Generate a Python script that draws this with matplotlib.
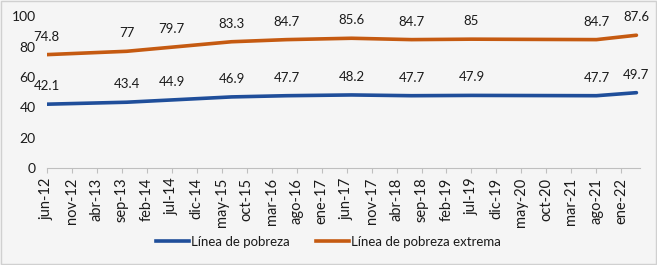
import matplotlib
matplotlib.use("Agg")
import matplotlib.pyplot as plt
from matplotlib.lines import Line2D
from matplotlib.patches import Rectangle

plt.rcParams['font.family'] = ['Lato', 'DejaVu Sans']

# Tick categories (every 5 months starting jun-12)
tick_labels = ["jun-12", "nov-12", "abr-13", "sep-13", "feb-14", "jul-14", "dic-14",
               "may-15", "oct-15", "mar-16", "ago-16", "ene-17", "jun-17", "nov-17",
               "abr-18", "sep-18", "feb-19", "jul-19", "dic-19", "may-20", "oct-20",
               "mar-21", "ago-21", "ene-22"]

obs_months = [0, 16, 25, 37, 48, 61, 73, 85, 110, 118]
pobreza = [42.1, 43.4, 44.9, 46.9, 47.7, 48.2, 47.7, 47.9, 47.7, 49.7]
pobreza_extrema = [74.8, 77, 79.7, 83.3, 84.7, 85.6, 84.7, 85, 84.7, 87.6]
y_ticks = [0, 20, 40, 60, 80, 100]

BLUE = "#1f4e9a"
ORANGE = "#c55a11"
BG = "#f5f5f5"
TXT = "#1a1a1a"

fig = plt.figure(figsize=(6.57, 2.65), dpi=100, facecolor=BG)
ax = fig.add_axes([0.071, 0.366, 0.903, 0.572])
ax.set_facecolor(BG)

ax.plot(obs_months, pobreza, color=BLUE, lw=2.6, solid_capstyle='round', label="Línea de pobreza")
ax.plot(obs_months, pobreza_extrema, color=ORANGE, lw=2.6, solid_capstyle='round', label="Línea de pobreza extrema")

for xs, ys in ((obs_months, pobreza), (obs_months, pobreza_extrema)):
    for x, y in zip(xs, ys):
        ax.annotate(f"{y:g}", (x, y), xytext=(0, 13), textcoords='offset points',
                    ha='center', va='center', fontsize=9.5, color=TXT)

ax.set_xlim(0, 118.7)
ax.set_ylim(0, 100)
ax.set_yticks(y_ticks)
ax.set_xticks([5 * i for i in range(len(tick_labels))])
ax.set_xticklabels(tick_labels, rotation=90, fontsize=10.5, color=TXT)
ax.tick_params(axis='y', length=0, pad=8, labelsize=10, labelcolor=TXT)
ax.tick_params(axis='x', length=3.5, width=0.8, color='#bfbfbf', pad=3.5, direction='out')

for s in ('top', 'right', 'left'):
    ax.spines[s].set_visible(False)
ax.spines['bottom'].set_color('#bfbfbf')
ax.spines['bottom'].set_linewidth(0.8)

handles = [Line2D([], [], color=BLUE, lw=2.6), Line2D([], [], color=ORANGE, lw=2.6)]
fig.legend(handles, ["Línea de pobreza", "Línea de pobreza extrema"], loc='center',
           bbox_to_anchor=(0.5, 0.087), ncol=2, frameon=False, fontsize=9.5,
           handlelength=2.5, handletextpad=0.15, columnspacing=2.0, labelcolor=TXT)

fig.patches.append(Rectangle((0.001, 0.002), 0.997, 0.995, transform=fig.transFigure,
                             fill=False, edgecolor='#d0d0d0', lw=1))

fig.savefig("out.png", dpi=100, facecolor=BG)
